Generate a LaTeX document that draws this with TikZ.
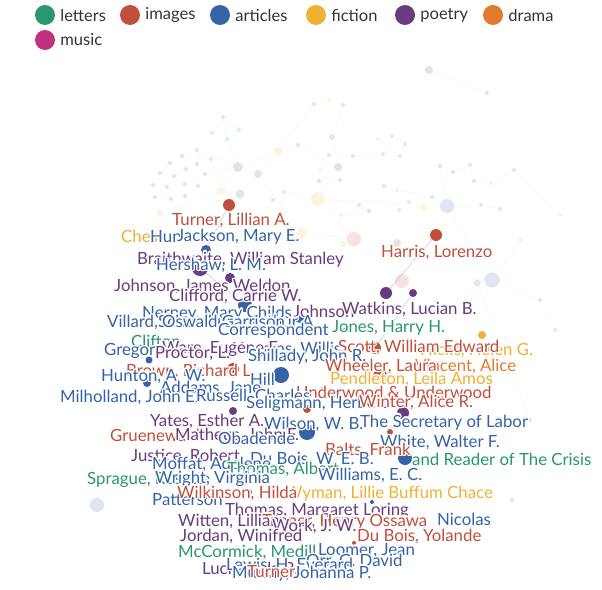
\documentclass[tikz,border=0pt]{standalone}
\usepackage{fontspec}
\setmainfont{Lato}
\usepackage{contour}
\contourlength{1.3pt}
\contournumber{16}
\definecolor{cLetters}{HTML}{2A9770}
\definecolor{cImages}{HTML}{C14F3C}
\definecolor{cArticles}{HTML}{3563A8}
\definecolor{cFiction}{HTML}{F0B135}
\definecolor{cPoetry}{HTML}{6A3B7E}
\definecolor{cDrama}{HTML}{E07C2F}
\definecolor{cMusic}{HTML}{C0317F}
\newcommand\halo[1]{\contour{white}{#1}}

\begin{document}
\begin{tikzpicture}[x=1pt,y=-1pt,
  lbl/.style={inner sep=0pt,anchor=west,font=\fontsize{16.8}{18}\selectfont},
  letters/.style={lbl,text=cLetters},
  images/.style={lbl,text=cImages},
  articles/.style={lbl,text=cArticles},
  fiction/.style={lbl,text=cFiction},
  poetry/.style={lbl,text=cPoetry},
  drama/.style={lbl,text=cDrama},
  dot/.style={circle,inner sep=0pt,minimum size=#1},
  faint/.style={circle,inner sep=0pt,minimum size=#1,draw=white,line width=.6pt},
  edge/.style={draw=gray!8,line width=.4pt},
  link/.style={draw=gray!45,line width=.5pt}]
\useasboundingbox (0,0) rectangle (602,589);

% legend
\foreach \x/\y/\c/\t [count=\i] in {45/15/cLetters/letters, 130/15/cImages/images, 220/15/cArticles/articles, 316/15/cFiction/fiction, 405/15/cPoetry/poetry, 493/15/cDrama/drama, 45/40/cMusic/music}
{
  \node[dot=20pt,fill=\c] (key\i) at (\x,\y) {};
  \node[lbl,text=black!80,font=\fontsize{16.5}{18}\selectfont] (keytext\i) at ([xshift=5pt]key\i.east) {\t};
}

% faint background nodes
\foreach \x/\y/\c/\s [count=\i] in {429/70/cPoetry/9, 487/93/cPoetry/5, 314/104/cArticles/5, 329/100/cFiction/5,
  343/105/cArticles/5, 223/117/cLetters/5, 212/133/cLetters/5, 239/130/cLetters/5, 227/139/cLetters/5,
  278/151/cFiction/9, 332/137/cImages/7, 298/145/cArticles/5, 197/150/cArticles/5, 182/156/cArticles/5,
  211/159/cImages/5, 238/167/cPoetry/11, 258/174/cArticles/9, 338/167/cPoetry/9, 392/136/cLetters/5,
  378/139/cFiction/5, 405/144/cLetters/5, 400/156/cLetters/5, 383/154/cImages/5, 353/156/cArticles/5,
  329/155/cLetters/5, 321/170/cFiction/5, 340/180/cArticles/5, 319/181/cPoetry/5, 170/163/cArticles/5,
  160/173/cArticles/5, 174/176/cArticles/5, 186/169/cArticles/5, 197/164/cArticles/5, 205/174/cArticles/5,
  153/185/cArticles/5, 167/187/cArticles/5, 185/184/cArticles/5, 198/186/cArticles/5, 171/199/cArticles/5,
  185/196/cArticles/5, 155/197/cImages/5, 221/191/cFiction/9, 240/194/cArticles/10, 318/199/cFiction/15,
  284/192/cLetters/5, 273/200/cLetters/5, 447/206/cArticles/15, 440/166/cPoetry/5, 453/172/cArticles/5,
  470/165/cArticles/5, 474/181/cPoetry/5, 491/183/cFiction/5, 514/170/cImages/5, 384/186/cArticles/5,
  397/190/cFiction/5, 432/197/cArticles/5, 409/202/cLetters/5, 424/208/cFiction/8, 359/205/cArticles/5,
  369/211/cPoetry/5, 341/215/cFiction/5, 399/210/cLetters/5, 481/205/cImages/5, 500/209/cArticles/5,
  160/213/cFiction/8, 492/280/cArticles/16, 477/283/cArticles/8, 402/281/cImages/15, 354/239/cImages/15,
  343/244/cFiction/7, 397/243/cPoetry/9, 521/240/cFiction/6, 302/233/cFiction/11, 97/505/cArticles/15,
  540/300/cArticles/5, 555/330/cLetters/5, 530/420/cArticles/5, 512/500/cArticles/5, 560/215/cFiction/5}
  \node[faint=\s,fill=\c!16] (f\i) at (\x,\y) {};

\foreach \a/\b in {29/30, 30/31, 31/32, 32/33, 33/34, 35/36, 36/37, 37/38, 39/40, 13/14, 14/15, 16/13,
  16/17, 16/9, 9/6, 6/7, 6/8, 8/9, 16/10, 10/17, 17/43, 43/42, 16/42, 10/3, 3/4, 4/5, 5/11, 11/18, 18/12,
  12/10, 18/28, 28/26, 26/25, 25/24, 24/23, 23/22, 22/21, 21/19, 19/20, 20/22, 18/44, 44/45, 45/46,
  44/59, 59/60, 60/61, 44/47, 47/58, 58/57, 57/62, 47/56, 56/55, 55/54, 47/48, 48/49, 49/50, 50/51,
  51/52, 52/53, 47/63, 63/64, 47/66, 66/67, 68/71, 69/70, 69/73, 1/2, 29/35, 32/38, 34/16, 41/39,
  65/42, 33/13, 53/79, 66/75, 75/76, 67/77, 44/69, 17/73, 66/72}
  \draw[edge] (f\a) -- (f\b);

% coloured nodes of the cluster
\foreach \n/\x/\y/\c/\s in {dTurnerL/229/205/cImages/12, dHun/206/250/cArticles/10, dBraith/200/268/cPoetry/16,
  dHershaw/230/278/cPoetry/10, dClifford/245/305/cArticles/14, dCorr/300/318/cArticles/10,
  dGregory/149/360/cArticles/7, dBrown/233/369/cImages/12, dHill/281/375/cArticles/16,
  dHarris/436/235/cImages/12, dWatkins/386/293/cPoetry/12, dWatkinsB/413/293/cPoetry/8,
  dScott/375/348/cImages/12, dWheeler/380/376/cImages/14, dHicks/482/335/cFiction/8,
  dHunton/147/383/cArticles/8, dYates/233/411/cPoetry/8, dSelig/307/409/cImages/8,
  dWilson/307/432/cArticles/16, dWinter/403/413/cPoetry/12, dWhite/390/432/cImages/6,
  dReader/405/458/cArticles/14, dSmallA/262/352/cPoetry/5, dSmallB/345/330/cLetters/4,
  dSmallC/330/425/cImages/4, dSmallD/250/492/cImages/4, dSmallE/372/502/cArticles/4,
  dSmallF/276/516/cPoetry/4, dSmallG/354/543/cImages/4, dSmallH/323/389/cFiction/4}
  \node[dot=\s,fill=\c] (\n) at (\x,\y) {};

\draw[link] (dHarris) -- (dWatkins);
\draw[link] (dWatkinsB) -- (dScott);
\draw[link] (dTurnerL) -- (dHun);
\draw[link] (dBraith) -- (dClifford);

% labels
\node[images] (tTurnerL) at (172,221) {\halo{Turner, Lillian A.}};
\node[fiction] (tChes) at (121,237) {\halo{Ches}};
\node[articles] (tHun) at (150,237) {\halo{Hun}};
\node[articles] (tJackson) at (177,237) {\halo{Jackson, Mary E.}};
\node[poetry] (tBraith) at (137,260) {\halo{Braithwaite, William Stanley}};
\node[articles] (tHershaw) at (156,266) {\halo{Hershaw, L. M.}};
\node[images] (tHarris) at (381,253) {\halo{Harris, Lorenzo}};
\node[poetry] (tJohnsonJW) at (114,287) {\halo{Johnson, James Weldon}};
\node[poetry] (tClifford) at (169,297) {\halo{Clifford, Carrie W.}};
\node[poetry] (tJohnson) at (293,312) {\halo{Johnson}};
\node[articles] (tNerney) at (142,314) {\halo{Nerney, Mary Childs}};
\node[poetry] (tWatkins) at (342,310) {\halo{Watkins, Lucian B.}};
\node[articles] (tSchomburg) at (158,323) {\halo{Schomburg, Arthur A.}};
\node[articles] (tVillard) at (107,323) {\halo{Villard, Oswald Garrison}};
\node[articles] (tCorr) at (218,331) {\halo{Correspondent}};
\node[letters] (tJones) at (332,329) {\halo{Jones, Harry H.}};
\node[letters] (tClifton) at (131,342) {\halo{Clifton}};
\node[articles] (tHuggins) at (232,350) {\halo{Huggins, Willis}};
\node[poetry] (tWare) at (162,350) {\halo{Ware, Eugene F.}};
\node[fiction] (tHicks) at (420,351) {\halo{Hicks, Helen G.}};
\node[images] (tScott) at (338,348) {\halo{Scott, William Edward}};
\node[articles] (tGregory) at (104,352) {\halo{Gregory}};
\node[poetry] (tProctor) at (155,354) {\halo{Proctor, L.}};
\node[articles] (tShillady) at (248,357) {\halo{Shillady, John R.}};
\node[drama] (tVincent) at (415,367) {\halo{Vincent, Alice}};
\node[images] (tWheeler) at (325,367) {\halo{Wheeler, Laura}};
\node[images] (tBrown) at (126,372) {\halo{Brown, Richard L.}};
\node[articles] (tHunton) at (101,377) {\halo{Hunton, A. W.}};
\node[articles] (tHill) at (250,380) {\halo{Hill}};
\node[fiction] (tPendleton) at (330,380) {\halo{Pendleton, Leila Amos}};
\node[articles] (tAddams) at (160,389) {\halo{Addams, Jane}};
\node[images] (tUnderwood) at (296,393) {\halo{Underwood \& Underwood}};
\node[articles] (tMilholland) at (60,398) {\halo{Milholland, John E.}};
\node[articles] (tRussell) at (196,397) {\halo{Russell, Charles}};
\node[articles] (tSelig) at (246,404) {\halo{Seligmann, Herbert}};
\node[images] (tWinter) at (359,403) {\halo{Winter, Alice R.}};
\node[poetry] (tYates) at (150,422) {\halo{Yates, Esther A.}};
\node[articles] (tSecretary) at (360,423) {\halo{The Secretary of Labor}};
\node[articles] (tWilson) at (264,425) {\halo{Wilson, W. B.}};
\node[images] (tGruene) at (110,436) {\halo{Gruenewald}};
\node[poetry] (tMatheus) at (175,436) {\halo{Matheus, John F.}};
\node[articles] (tObadende) at (218,439) {\halo{Obadende}};
\node[articles] (tWhite) at (380,443) {\halo{White, Walter F.}};
\node[images] (tBalts) at (325,451) {\halo{Balts, Frank}};
\node[poetry] (tJustice) at (131,457) {\halo{Justice, Robert}};
\node[articles] (tDuBois) at (250,460) {\halo{Du Bois, W. E. B.}};
\node[letters] (tReader) at (412,460) {\halo{and Reader of The Crisis}};
\node[articles] (tMoffat) at (152,465) {\halo{Moffat, Adelene}};
\node[letters] (tThomasA) at (227,470) {\halo{Thomas, Albert}};
\node[articles] (tWilliams) at (318,476) {\halo{Williams, E. C.}};
\node[letters] (tSprague) at (87,481) {\halo{Sprague, Rosetta}};
\node[articles] (tWright) at (155,479) {\halo{Wright, Virginia}};
\node[articles] (tPatterson) at (152,500) {\halo{Patterson}};
\node[fiction] (tWyman) at (285,494) {\halo{Wyman, Lillie Buffum Chace}};
\node[images] (tWilkinson) at (177,494) {\halo{Wilkinson, Hilda}};
\node[poetry] (tThomasM) at (225,511) {\halo{Thomas, Margaret Loring}};
\node[articles] (tNicolas) at (437,520) {\halo{Nicolas}};
\node[images] (tTanner) at (262,522) {\halo{Tanner, Henry Ossawa}};
\node[poetry] (tWitten) at (178,522) {\halo{Witten, Lillian}};
\node[poetry] (tWork) at (272,527) {\halo{Work, J. W.}};
\node[images] (tYolande) at (357,537) {\halo{Du Bois, Yolande}};
\node[poetry] (tJordan) at (180,537) {\halo{Jordan, Winifred}};
\node[articles] (tLoomer) at (318,551) {\halo{Loomer, Jean}};
\node[letters] (tMcCormick) at (178,553) {\halo{McCormick, Medill}};
\node[articles] (tOrr) at (306,562) {\halo{Orr, G. David}};
\node[poetry] (tLuckie) at (202,570) {\halo{Luckie, Ida B.}};
\node[articles] (tLewis) at (226,566) {\halo{Lewis, H. Everard}};
\node[articles] (tMurray) at (232,574) {\halo{Murray, Johanna P.}};
\node[images] (tTurner) at (247,572) {\halo{Turner}};
\end{tikzpicture}
\end{document}
